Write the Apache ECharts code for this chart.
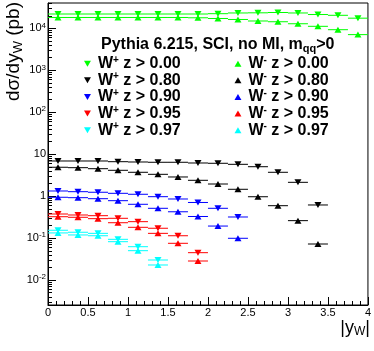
<!DOCTYPE html>
<html>
<head>
<meta charset="utf-8">
<script src="https://cdn.jsdelivr.net/npm/echarts@6/dist/echarts.min.js"></script>
<style>
html, body { margin: 0; padding: 0; background: #fff; }
#chart { width: 374px; height: 351px; }
</style>
</head>
<body>
<div id="chart"></div>
<script>
// bin centres in |y_W| (bins are 0.25 wide)
var binCentres = [0.125, 0.375, 0.625, 0.875, 1.125, 1.375, 1.625, 1.875,
                  2.125, 2.375, 2.625, 2.875, 3.125, 3.375, 3.625, 3.875];
var binHalf = 0.125;

// dsigma/dy_W in pb
var wpZ000 = [22000, 22000, 22000, 22000, 22000, 22000, 22000, 22000, 22400, 23300, 23500, 23900, 23300, 21400, 20500, 17500];
var wmZ000 = [18200, 18200, 18200, 18200, 18200, 18200, 18200, 17900, 17200, 16300, 15000, 14400, 12900, 11200, 9300, 7100];
var wpZ080 = [6.90, 6.90, 6.90, 6.64, 6.53, 6.43, 6.43, 6.18, 6.08, 5.75, 5.04, 3.71, 2.14, 0.617];
var wmZ080 = [4.89, 4.78, 4.52, 4.14, 3.71, 3.32, 2.87, 2.39, 1.95, 1.46, 0.97, 0.593, 0.261, 0.0724];
var wpZ090 = [1.33, 1.28, 1.24, 1.17, 1.11, 0.973, 0.857, 0.708, 0.514, 0.319];
var wmZ090 = [0.942, 0.921, 0.871, 0.781, 0.641, 0.514, 0.425, 0.328, 0.194, 0.0991];
var wpZ095 = [0.376, 0.356, 0.343, 0.297, 0.247, 0.172, 0.114, 0.045];
var wmZ095 = [0.324, 0.314, 0.291, 0.233, 0.181, 0.130, 0.0753, 0.0285];
var wpZ097 = [0.154, 0.138, 0.130, 0.0937, 0.0625, 0.0301];
var wmZ097 = [0.133, 0.119, 0.114, 0.0822, 0.0502, 0.0229];

var wpNames = ['W+ z > 0.00', 'W+ z > 0.80', 'W+ z > 0.90', 'W+ z > 0.95', 'W+ z > 0.97'];
var wmNames = ['W- z > 0.00', 'W- z > 0.80', 'W- z > 0.90', 'W- z > 0.95', 'W- z > 0.97'];
var wpData = [wpZ000, wpZ080, wpZ090, wpZ095, wpZ097];
var wmData = [wmZ000, wmZ080, wmZ090, wmZ095, wmZ097];
var colours = ['#00ff00', '#000000', '#0000ff', '#ff0000', '#00ffff'];

var downIcon = 'path://M0 0L2 0L1 1.73Z';
var upIcon = 'path://M1 0L2 1.73L0 1.73Z';

// y axis is drawn in log10 space
var yLogMin = -2.594, yLogMax = 4.605;
var yDecades = [-2, -1, 0, 1, 2, 3, 4];
var yMinor = [];
for (var n = -3; n <= 4; n++) {
    for (var k = 2; k <= 9; k++) {
        var t = n + Math.log10(k);
        if (t > yLogMin && t < yLogMax) yMinor.push(t);
    }
}

function toPoints(vals) {
    var pts = [];
    for (var i = 0; i < vals.length; i++) {
        pts.push([binCentres[i], Math.log10(vals[i])]);
    }
    return pts;
}

// horizontal error bar across the bin
function errBar(params, api) {
    var y = api.value(1), x = api.value(0);
    var a = api.coord([x - binHalf, y]);
    var b = api.coord([x + binHalf, y]);
    return {
        type: 'line',
        shape: { x1: a[0], y1: a[1], x2: b[0], y2: b[1] },
        style: { stroke: api.visual('color'), lineWidth: 1 }
    };
}

var series = [];
function addPair(name, vals, colour, rot) {
    var pts = toPoints(vals);
    series.push({
        name: 'err ' + name,
        type: 'custom',
        renderItem: errBar,
        itemStyle: { color: colour },
        data: pts,
        silent: true,
        z: 2
    });
    series.push({
        name: name,
        type: 'scatter',
        symbol: 'triangle',
        symbolSize: [7, 6],
        symbolRotate: rot,
        itemStyle: { color: colour, opacity: 1 },
        data: pts,
        z: 3
    });
}
for (var i = 0; i < 5; i++) {
    addPair(wpNames[i], wpData[i], colours[i], 180);
    addPair(wmNames[i], wmData[i], colours[i], 0);
}

function legendLabel(name) {
    var parts = name.split(' ');
    return '{w|W}{s|' + parts[0].charAt(1) + '}{w| ' + parts.slice(1).join(' ') + '}';
}

var legendRich = {
    w: { fontSize: 16, fontWeight: 'bold', fontFamily: 'Liberation Sans', color: '#000', lineHeight: 17.3 },
    s: { fontSize: 10, fontWeight: 'bold', fontFamily: 'Liberation Sans', color: '#000', lineHeight: 10, verticalAlign: 'top' }
};

function legendBox(names, left, icon) {
    return {
        data: names.map(function (nm) { return { name: nm, icon: icon }; }),
        orient: 'vertical',
        left: left,
        top: 55,
        padding: 0,
        itemGap: 0,
        itemWidth: 11,
        itemHeight: 6,
        formatter: legendLabel,
        textStyle: { rich: legendRich },
        selectedMode: false
    };
}

var chart = echarts.init(document.getElementById('chart'));

var option = {
    backgroundColor: '#fff',
    animation: false,
    title: {
        text: '{a|Pythia 6.215, SCI, no MI, m}{b|qq}{a|>0}',
        left: 101,
        top: 36,
        padding: 0,
        textStyle: {
            rich: {
                a: { fontSize: 16, fontWeight: 'bold', fontFamily: 'Liberation Sans', color: '#000', lineHeight: 18 },
                b: { fontSize: 11, fontWeight: 'bold', fontFamily: 'Liberation Sans', color: '#000', lineHeight: 10, verticalAlign: 'bottom' }
            }
        }
    },
    legend: [legendBox(wpNames, 84, downIcon), legendBox(wmNames, 234.5, upIcon)],
    grid: {
        left: 48, right: 5, top: 3, bottom: 46,
        show: true, borderColor: '#000', borderWidth: 1,
        backgroundColor: 'transparent'
    },
    xAxis: {
        type: 'value',
        min: 0, max: 4, interval: 0.5,
        axisLine: { show: true, onZero: false, lineStyle: { color: '#000', width: 1 } },
        axisTick: { show: true, inside: true, length: 8, lineStyle: { color: '#000' } },
        minorTick: { show: true, splitNumber: 5, length: 4, lineStyle: { color: '#000' } },
        axisLabel: { margin: 2, fontSize: 11, fontFamily: 'Liberation Sans', color: '#000',
                     showMinLabel: true, showMaxLabel: true },
        splitLine: { show: false }
    },
    yAxis: [{
        type: 'value',
        min: yLogMin, max: yLogMax,
        axisLine: { show: true, onZero: false, lineStyle: { color: '#000', width: 1 } },
        axisTick: { show: true, inside: true, length: 8, customValues: yDecades, lineStyle: { color: '#000' } },
        axisLabel: {
            customValues: yDecades,
            margin: 2,
            fontSize: 11, fontFamily: 'Liberation Sans', color: '#000', lineHeight: 14,
            formatter: function (v) {
                if (v === 0) return '1';
                if (v === 1) return '10';
                return '10{s|' + v + '}';
            },
            rich: { s: { fontSize: 8, fontFamily: 'Liberation Sans', color: '#000', lineHeight: 8, verticalAlign: 'top' } }
        },
        splitLine: { show: false }
    }, {
        type: 'value',
        min: yLogMin, max: yLogMax,
        position: 'left',
        axisLine: { show: false, onZero: false },
        axisTick: { show: true, inside: true, length: 4, customValues: yMinor, lineStyle: { color: '#000' } },
        axisLabel: { show: false },
        splitLine: { show: false }
    }],
    graphic: [{
        type: 'text',
        x: 14, y: 2,
        rotation: Math.PI / 2,
        style: {
            text: '{a|d\u03c3/dy}{b|W}{a| (pb)}',
            align: 'right',
            verticalAlign: 'middle',
            rich: {
                a: { fontSize: 19, fontFamily: 'Liberation Sans', fill: '#000', lineHeight: 22 },
                b: { fontSize: 13, fontFamily: 'Liberation Sans', fill: '#000', lineHeight: 12, verticalAlign: 'bottom' }
            }
        }
    }, {
        type: 'text',
        x: 370, y: 318,
        style: {
            text: '{a||y}{b|W}{a||}',
            align: 'right',
            verticalAlign: 'top',
            rich: {
                a: { fontSize: 18, fontFamily: 'Liberation Sans', fill: '#000', lineHeight: 20 },
                b: { fontSize: 12, fontFamily: 'Liberation Sans', fill: '#000', lineHeight: 10, verticalAlign: 'bottom' }
            }
        }
    }],
    series: series
};

chart.setOption(option);
</script>
</body>
</html>
